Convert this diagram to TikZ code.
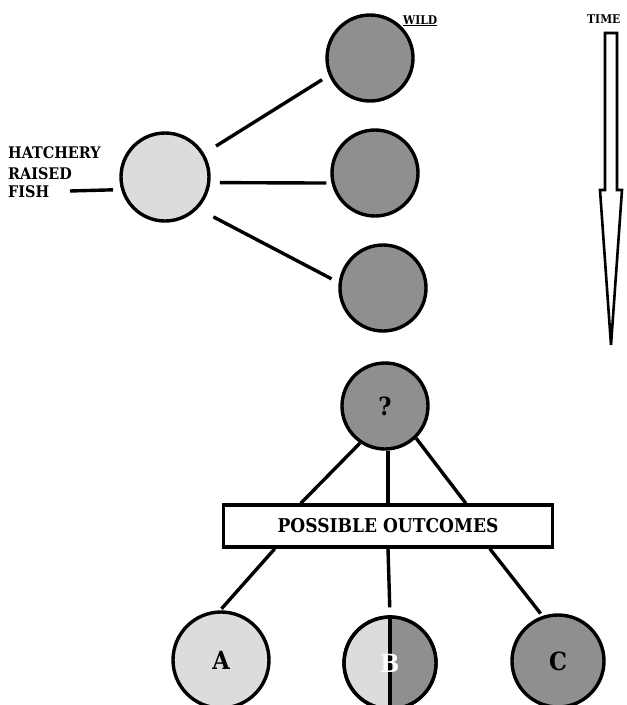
\documentclass[tikz,border=0pt]{standalone}
\usepackage{fontspec}
\newfontfamily\slab{DejaVu Serif Condensed}[BoldFont={DejaVu Serif Condensed Bold}]
\definecolor{lightc}{RGB}{220,220,220}
\definecolor{darkc}{RGB}{143,143,143}
\begin{document}
\begin{tikzpicture}[x=1pt,y=-1pt,
  ln/.style={line width=3.4pt},
  circ/.style={circle, draw, line width=3.4pt, inner sep=0pt},
  lc/.style={circ, fill=lightc},
  dc/.style={circ, fill=darkc},
  lbl/.style={font=\slab\bfseries\fontsize{16}{19}\selectfont, inner sep=0pt},
  big/.style={font=\slab\bfseries\fontsize{25}{27}\selectfont, inner sep=0pt},
  box/.style={font=\slab\bfseries\fontsize{19}{21}\selectfont, inner sep=0pt},
  small/.style={font=\slab\bfseries\fontsize{12}{14}\selectfont, inner sep=0pt}]
\useasboundingbox (0,0) rectangle (627,705);
% top part
\node[lc, minimum size=88pt] (h) at (165,177) {};
\node[dc, minimum size=86pt] (w1) at (370,58) {};
\node[dc, minimum size=86pt] (w2) at (375,173) {};
\node[dc, minimum size=86pt] (w3) at (383,288) {};
\draw[ln, shorten <=14pt, shorten >=8pt] (h.31) -- (w1.203);
\draw[ln, shorten <=9.5pt, shorten >=5pt] (h.-7.5) -- (w2.193);
\draw[ln, shorten <=17.5pt, shorten >=8pt] (h.-44) -- (w3.173);
\coordinate (hl) at (70,191);
\draw[ln, shorten >=8pt] (hl) -- (h.196);
\node[lbl, anchor=base west] (t1) at (8,158) {HATCHERY};
\node[lbl, anchor=base west] (t2) at (8,179) {RAISED};
\node[lbl, anchor=base west] (t3) at (8,197) {FISH};
\node[small, anchor=base west] (wild) at (403,24) {\underline{WILD}};
\node[small, anchor=base west] (time) at (587,23) {TIME};
\draw[line width=2.6pt, line join=miter] (605,33) -- (617,33) -- (617,190) -- (622,190) -- (611,345) -- (600,190) -- (605,190) -- cycle;
% bottom part
\node[dc, minimum size=86pt] (q) at (385,406) {};
\node[big] at (q) {?};
\node[draw, line width=3.4pt, minimum width=329pt, minimum height=42pt, inner sep=0pt, box] (b) at (388,526) {POSSIBLE OUTCOMES};
\draw[ln] (q.236) -- ([xshift=79pt]b.north west);
\draw[ln] (b.north |- q.south) -- (b.north);
\draw[ln] (q.-46) -- ([xshift=244pt]b.north west);
\node[lc, minimum size=96pt] (A) at (221,660) {};
\node[big] at (A) {A};
\node[lc, minimum size=92pt] (B) at (390,663) {};
\fill[darkc] (B.north) arc[start angle=90, end angle=-90, radius=46pt] -- cycle;
\draw[ln] (B.center) circle[radius=46pt];
\draw[ln] (B.north) -- (B.south);
\node[big, text=white] at (B) {B};
\node[dc, minimum size=92pt] (C) at (558,661) {};
\node[big] at (C) {C};
\draw[ln, shorten >=2pt] ([xshift=53pt]b.south west) -- (A.91);
\draw[ln, shorten >=8pt] (b.south) -- (B.north);
\draw[ln, shorten >=3pt] ([xshift=268pt]b.south west) -- (C.109);
\end{tikzpicture}
\end{document}
